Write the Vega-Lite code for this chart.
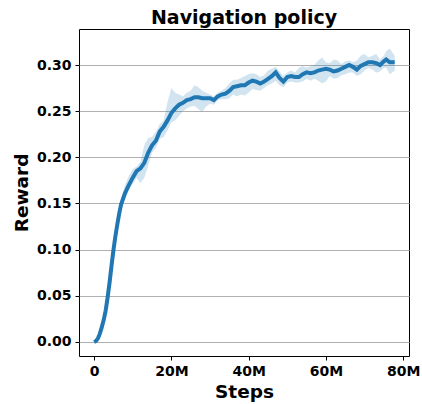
{
  "$schema": "https://vega.github.io/schema/vega-lite/v6.json",
  "autosize": "none",
  "width": 330,
  "height": 327,
  "padding": {"left": 79, "top": 29, "right": 13, "bottom": 48},
  "background": "white",
  "title": {"text": "Navigation policy", "font": "DejaVu Sans", "fontSize": 19, "fontWeight": "bold", "color": "black", "baseline": "alphabetic", "offset": -14, "anchor": "middle"},
  "config": {
    "view": {"stroke": "black", "strokeWidth": 1},
    "axis": {"labelFont": "DejaVu Sans", "labelFontSize": 14, "labelFontWeight": "bold", "labelColor": "black", "titleFont": "DejaVu Sans", "titleFontSize": 18.5, "titleFontWeight": "bold", "titleColor": "black", "tickColor": "black", "tickSize": 4, "domain": false}
  },
  "data": {"values": [
    {"steps": 0, "mean": 0.0, "lo": 0.0, "hi": 0.0},
    {"steps": 0.5, "mean": 0.001, "lo": 0.001, "hi": 0.001},
    {"steps": 1, "mean": 0.004, "lo": 0.003, "hi": 0.005},
    {"steps": 1.5, "mean": 0.009, "lo": 0.008, "hi": 0.010},
    {"steps": 2, "mean": 0.016, "lo": 0.015, "hi": 0.017},
    {"steps": 2.5, "mean": 0.024, "lo": 0.023, "hi": 0.026},
    {"steps": 3, "mean": 0.034, "lo": 0.032, "hi": 0.036},
    {"steps": 3.5, "mean": 0.048, "lo": 0.046, "hi": 0.050},
    {"steps": 4, "mean": 0.064, "lo": 0.062, "hi": 0.066},
    {"steps": 4.5, "mean": 0.082, "lo": 0.080, "hi": 0.084},
    {"steps": 5, "mean": 0.099, "lo": 0.097, "hi": 0.101},
    {"steps": 5.5, "mean": 0.114, "lo": 0.112, "hi": 0.116},
    {"steps": 6, "mean": 0.127, "lo": 0.124, "hi": 0.130},
    {"steps": 6.5, "mean": 0.139, "lo": 0.135, "hi": 0.143},
    {"steps": 7, "mean": 0.149, "lo": 0.143, "hi": 0.155},
    {"steps": 8, "mean": 0.161, "lo": 0.155, "hi": 0.170},
    {"steps": 9, "mean": 0.170, "lo": 0.165, "hi": 0.180},
    {"steps": 10, "mean": 0.178, "lo": 0.171, "hi": 0.187},
    {"steps": 11, "mean": 0.185, "lo": 0.178, "hi": 0.190},
    {"steps": 12, "mean": 0.188, "lo": 0.172, "hi": 0.195},
    {"steps": 13, "mean": 0.194, "lo": 0.178, "hi": 0.213},
    {"steps": 14, "mean": 0.205, "lo": 0.191, "hi": 0.221},
    {"steps": 15, "mean": 0.213, "lo": 0.205, "hi": 0.222},
    {"steps": 16, "mean": 0.218, "lo": 0.210, "hi": 0.228},
    {"steps": 17, "mean": 0.228, "lo": 0.220, "hi": 0.236},
    {"steps": 18, "mean": 0.233, "lo": 0.222, "hi": 0.240},
    {"steps": 19, "mean": 0.240, "lo": 0.229, "hi": 0.260},
    {"steps": 20, "mean": 0.248, "lo": 0.238, "hi": 0.275},
    {"steps": 21, "mean": 0.253, "lo": 0.240, "hi": 0.270},
    {"steps": 22, "mean": 0.257, "lo": 0.245, "hi": 0.268},
    {"steps": 23, "mean": 0.259, "lo": 0.250, "hi": 0.266},
    {"steps": 24, "mean": 0.262, "lo": 0.253, "hi": 0.270},
    {"steps": 25, "mean": 0.263, "lo": 0.255, "hi": 0.272},
    {"steps": 26, "mean": 0.265, "lo": 0.256, "hi": 0.278},
    {"steps": 27, "mean": 0.265, "lo": 0.252, "hi": 0.276},
    {"steps": 28, "mean": 0.264, "lo": 0.249, "hi": 0.272},
    {"steps": 29, "mean": 0.264, "lo": 0.255, "hi": 0.270},
    {"steps": 30, "mean": 0.264, "lo": 0.258, "hi": 0.268},
    {"steps": 31, "mean": 0.262, "lo": 0.257, "hi": 0.266},
    {"steps": 32, "mean": 0.266, "lo": 0.262, "hi": 0.270},
    {"steps": 33, "mean": 0.268, "lo": 0.263, "hi": 0.272},
    {"steps": 34, "mean": 0.269, "lo": 0.263, "hi": 0.275},
    {"steps": 35, "mean": 0.272, "lo": 0.264, "hi": 0.280},
    {"steps": 36, "mean": 0.276, "lo": 0.268, "hi": 0.284},
    {"steps": 37, "mean": 0.277, "lo": 0.266, "hi": 0.284},
    {"steps": 38, "mean": 0.278, "lo": 0.268, "hi": 0.286},
    {"steps": 39, "mean": 0.278, "lo": 0.267, "hi": 0.288},
    {"steps": 40, "mean": 0.281, "lo": 0.270, "hi": 0.290},
    {"steps": 41, "mean": 0.283, "lo": 0.274, "hi": 0.291},
    {"steps": 42, "mean": 0.282, "lo": 0.273, "hi": 0.290},
    {"steps": 43, "mean": 0.280, "lo": 0.272, "hi": 0.287},
    {"steps": 44, "mean": 0.282, "lo": 0.275, "hi": 0.289},
    {"steps": 45, "mean": 0.285, "lo": 0.278, "hi": 0.294},
    {"steps": 46, "mean": 0.288, "lo": 0.280, "hi": 0.296},
    {"steps": 47, "mean": 0.292, "lo": 0.283, "hi": 0.298},
    {"steps": 48, "mean": 0.286, "lo": 0.278, "hi": 0.293},
    {"steps": 49, "mean": 0.282, "lo": 0.276, "hi": 0.288},
    {"steps": 50, "mean": 0.287, "lo": 0.281, "hi": 0.292},
    {"steps": 51, "mean": 0.288, "lo": 0.282, "hi": 0.294},
    {"steps": 52, "mean": 0.287, "lo": 0.281, "hi": 0.292},
    {"steps": 53, "mean": 0.287, "lo": 0.281, "hi": 0.297},
    {"steps": 54, "mean": 0.290, "lo": 0.282, "hi": 0.299},
    {"steps": 55, "mean": 0.292, "lo": 0.285, "hi": 0.297},
    {"steps": 56, "mean": 0.291, "lo": 0.283, "hi": 0.299},
    {"steps": 57, "mean": 0.292, "lo": 0.285, "hi": 0.300},
    {"steps": 58, "mean": 0.294, "lo": 0.283, "hi": 0.305},
    {"steps": 59, "mean": 0.295, "lo": 0.280, "hi": 0.308},
    {"steps": 60, "mean": 0.296, "lo": 0.282, "hi": 0.303},
    {"steps": 61, "mean": 0.295, "lo": 0.288, "hi": 0.302},
    {"steps": 62, "mean": 0.293, "lo": 0.285, "hi": 0.306},
    {"steps": 63, "mean": 0.294, "lo": 0.286, "hi": 0.305},
    {"steps": 64, "mean": 0.296, "lo": 0.289, "hi": 0.301},
    {"steps": 65, "mean": 0.298, "lo": 0.290, "hi": 0.304},
    {"steps": 66, "mean": 0.300, "lo": 0.292, "hi": 0.305},
    {"steps": 67, "mean": 0.298, "lo": 0.292, "hi": 0.303},
    {"steps": 68, "mean": 0.295, "lo": 0.288, "hi": 0.305},
    {"steps": 69, "mean": 0.299, "lo": 0.290, "hi": 0.310},
    {"steps": 70, "mean": 0.301, "lo": 0.294, "hi": 0.312},
    {"steps": 71, "mean": 0.303, "lo": 0.297, "hi": 0.308},
    {"steps": 72, "mean": 0.303, "lo": 0.295, "hi": 0.310},
    {"steps": 73, "mean": 0.302, "lo": 0.292, "hi": 0.312},
    {"steps": 74, "mean": 0.300, "lo": 0.293, "hi": 0.306},
    {"steps": 75, "mean": 0.304, "lo": 0.297, "hi": 0.310},
    {"steps": 75.6, "mean": 0.306, "lo": 0.297, "hi": 0.315},
    {"steps": 76.5, "mean": 0.303, "lo": 0.290, "hi": 0.318},
    {"steps": 77.8, "mean": 0.303, "lo": 0.294, "hi": 0.310}
  ]},
  "layer": [
    {
      "mark": {"type": "area", "color": "#1f77b4", "opacity": 0.2},
      "encoding": {
        "x": {"field": "steps", "type": "quantitative", "scale": {"domain": [-3.9, 81.5], "nice": false, "zero": false},
              "axis": {"values": [0, 20, 40, 60, 80], "grid": false, "title": "Steps", "labelExpr": "datum.value == 0 ? '0' : datum.value + 'M'", "labelPadding": 4, "titleY": 41, "titleBaseline": "alphabetic"}},
        "y": {"field": "lo", "type": "quantitative", "scale": {"domain": [-0.0152, 0.339], "nice": false, "zero": false},
              "axis": {"values": [0, 0.05, 0.1, 0.15, 0.2, 0.25, 0.3], "format": ".2f", "grid": true, "gridColor": "#b0b0b0", "gridWidth": 1, "title": "Reward", "labelPadding": 4, "titleX": -52, "titleBaseline": "alphabetic"}},
        "y2": {"field": "hi"}
      }
    },
    {
      "mark": {"type": "line", "color": "#1f77b4", "strokeWidth": 4},
      "encoding": {
        "x": {"field": "steps", "type": "quantitative"},
        "y": {"field": "mean", "type": "quantitative"}
      }
    }
  ]
}
